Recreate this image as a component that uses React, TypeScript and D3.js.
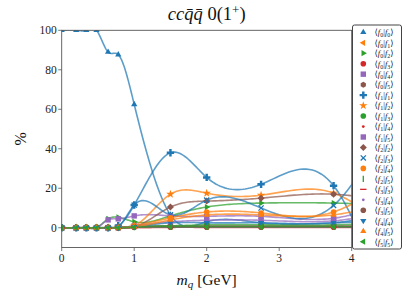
import React from "react";
import * as d3 from "d3";

const W = 415;
const H = 303;
const M = { left: 61.7, right: 351.7, top: 30.3, bottom: 247.5 };

const COLORS = ["#1f77b4", "#ff7f0e", "#2ca02c", "#d62728", "#9467bd", "#8c564b"];

// quark masses (GeV); last point sits past the visible range
const xs = [0, 0.2, 0.34, 0.48, 0.64, 0.78, 1.0, 1.5, 2.0, 2.75, 3.75, 4.25];

const labels = [
  ["0", "0"], ["0", "1"], ["0", "2"], ["0", "3"], ["0", "4"], ["0", "5"],
  ["1", "1"], ["1", "2"], ["1", "3"], ["1", "4"], ["1", "5"],
  ["2", "2"], ["2", "3"], ["2", "4"], ["2", "5"],
  ["3", "3"], ["3", "4"], ["3", "5"],
  ["4", "4"], ["4", "5"],
  ["5", "5"],
];

const markers = [
  "^", "<", ">", "o", "s", "h",
  "P", "*", "o", ".", "s",
  "D", "x", "o", "|",
  "_", ".", "o",
  "v", "^",
  "<",
];

const f0f0 = [100, 100, 100, 100, 89, 87.7, 62.5, 6.5, 3, 2.5, 2.5, 3];
const f0f1 = [0, 0, 0, 0, 0, 0.3, 0.5, 0.5, 0.5, 0.5, 0.5, 0.5];
const f0f2 = [0, 0, 0, 0, 4.5, 5.3, 3, 6, 10.5, 12.5, 12.5, 12];
const f0f3 = [0, 0, 0, 0, 0, 0, 0.3, 0.3, 0.3, 0.3, 0.3, 0.3];
const f0f4 = [0, 0, 0, 0, 4, 4.5, 6, 6, 5.8, 5.8, 4.8, 9];
const f0f5 = [0, 0, 0, 0, 0, 0, 0.5, 1, 1, 1, 1, 1];
const f1f1 = [0, 0, 0, 0, 0, 1, 11.5, 38, 25.5, 22, 21.3, -15];
const f1f2 = [0, 0, 0, 0, 0, 0, 1, 17, 17.5, 16.5, 17.6, 7];
const f1f3 = [0, 0, 0, 0, 0, 0, 0.5, 1, 1.5, 1.5, 1.5, 2];
const f1f4 = [0, 0, 0, 0, 0, 0, 0.2, 0.3, 0.3, 0.3, 0.3, 0.3];
const f1f5 = [0, 0, 0, 0, 0, 0, 1, 3, 3.8, 3.8, 3.5, 6];
const f2f2 = [0, 0, 0, 0, 0, 0, 0.5, 10.5, 13.5, 15, 17, 15];
const f2f3 = [0, 0, 0, 0, 0, 0.5, 11.5, 6.5, 14, 10, 11.3, 35];
const f2f4 = [0, 0, 0, 0, 0, 0, 1, 5, 8, 7.5, 8, 17];
const f2f5 = [0, 0, 0, 0, 0, 0, 0.3, 0.5, 0.5, 0.5, 0.5, 0.5];
const f3f3 = [0, 0, 0, 0, 0, 0, 0, 0.2, 0.2, 0.2, 0.2, 0.2];
const f3f4 = [0, 0, 0, 0, 0, 0, 0.2, 0.3, 0.3, 0.3, 0.3, 0.3];
const f3f5 = [0, 0, 0, 0, 0, 0, 0.3, 0.5, 0.5, 0.5, 0.5, 0.5];
const f4f4 = [0, 0, 0, 0, 0, 0, 0.5, 2.5, 2.5, 2.5, 2.5, 5];
const f4f5 = [0, 0, 0, 0, 0, 0, 0.5, 4, 6.5, 6.5, 6.5, 10];
const f5f5 = [0, 0, 0, 0, 0, 0, 0.3, 0.5, 0.5, 0.5, 0.5, 0.5];

const series = [
  f0f0, f0f1, f0f2, f0f3, f0f4, f0f5,
  f1f1, f1f2, f1f3, f1f4, f1f5,
  f2f2, f2f3, f2f4, f2f5,
  f3f3, f3f4, f3f5,
  f4f4, f4f5,
  f5f5,
];

const yTicks = [0, 20, 40, 60, 80, 100];
const xTicks = [0, 1, 2, 3, 4];

// natural cubic spline y(x), sampled densely
function splinePoints(x: number[], y: number[], steps = 24) {
  const n = x.length;
  const h = d3.range(n - 1).map((i) => x[i + 1] - x[i]);
  const m = new Array(n).fill(0);
  const a: number[] = [], b: number[] = [], c: number[] = [], r: number[] = [];
  for (let i = 1; i < n - 1; i++) {
    a.push(h[i - 1]);
    b.push(2 * (h[i - 1] + h[i]));
    c.push(h[i]);
    r.push(6 * ((y[i + 1] - y[i]) / h[i] - (y[i] - y[i - 1]) / h[i - 1]));
  }
  const k = b.length;
  for (let i = 1; i < k; i++) {
    const w = a[i] / b[i - 1];
    b[i] -= w * c[i - 1];
    r[i] -= w * r[i - 1];
  }
  const sol = new Array(k).fill(0);
  for (let i = k - 1; i >= 0; i--) {
    sol[i] = (r[i] - (i < k - 1 ? c[i] * sol[i + 1] : 0)) / b[i];
  }
  for (let i = 0; i < k; i++) m[i + 1] = sol[i];
  const pts: [number, number][] = [];
  for (let i = 0; i < n - 1; i++) {
    for (let s = 0; s < steps; s++) {
      const xx = x[i] + (h[i] * s) / steps;
      const A = (x[i + 1] - xx) / h[i];
      const B = (xx - x[i]) / h[i];
      const yy =
        A * y[i] + B * y[i + 1] +
        ((A ** 3 - A) * m[i] + (B ** 3 - B) * m[i + 1]) * (h[i] * h[i]) / 6;
      pts.push([xx, yy]);
    }
  }
  pts.push([x[n - 1], y[n - 1]]);
  return pts;
}

function hexPath(r: number) {
  return d3.range(6).map((i) => {
    const t = (Math.PI / 3) * i + Math.PI / 6;
    return `${i ? "L" : "M"}${(r * Math.cos(t)).toFixed(2)},${(r * Math.sin(t)).toFixed(2)}`;
  }).join("") + "Z";
}

function triPath(r: number, rot: number) {
  return d3.range(3).map((i) => {
    const t = rot + (2 * Math.PI / 3) * i;
    return `${i ? "L" : "M"}${(r * Math.cos(t)).toFixed(2)},${(r * Math.sin(t)).toFixed(2)}`;
  }).join("") + "Z";
}

const Marker = ({ kind, color, x, y }: { kind: string; color: string; x: number; y: number }) => {
  const tr = `translate(${x},${y})`;
  switch (kind) {
    case "^": return <path transform={tr} d={triPath(3.6, -Math.PI / 2)} fill={color} />;
    case "v": return <path transform={tr} d={triPath(3.6, Math.PI / 2)} fill={color} />;
    case "<": return <path transform={tr} d={triPath(3.6, Math.PI)} fill={color} />;
    case ">": return <path transform={tr} d={triPath(3.6, 0)} fill={color} />;
    case "o": return <circle cx={x} cy={y} r={2.8} fill={color} />;
    case ".": return <circle cx={x} cy={y} r={1.4} fill={color} />;
    case "s": return <rect x={x - 2.7} y={y - 2.7} width={5.4} height={5.4} fill={color} />;
    case "h": return <path transform={tr} d={hexPath(3)} fill={color} />;
    case "D": return <path transform={tr} d="M0,-3.5L3.5,0L0,3.5L-3.5,0Z" fill={color} />;
    case "P": return <path transform={tr} d={d3.symbol(d3.symbolCross, 30)() as string} fill={color} />;
    case "*": return <path transform={tr} d={d3.symbol(d3.symbolStar, 22)() as string} fill={color} />;
    case "x": return <path transform={tr} d="M-2.6,-2.6L2.6,2.6M-2.6,2.6L2.6,-2.6" stroke={color} strokeWidth={1.3} />;
    case "|": return <path transform={tr} d="M0,-3.2L0,3.2" stroke={color} strokeWidth={1.3} />;
    case "_": return <path transform={tr} d="M-3.2,0L3.2,0" stroke={color} strokeWidth={1.3} />;
    default: return null;
  }
};

const Pair = ({ a, b }: { a: string; b: string }) => (
  <>
    {"⟨"}
    <tspan fontStyle="italic">f</tspan>
    <tspan fontSize={6} dy={2}>{a}</tspan>
    <tspan dy={-2}>|</tspan>
    <tspan fontStyle="italic">f</tspan>
    <tspan fontSize={6} dy={2}>{b}</tspan>
    <tspan dy={-2}>⟩</tspan>
  </>
);

export default function App() {
  const x = d3.scaleLinear().domain([0, 4]).range([M.left, M.right]);
  const y = d3.scaleLinear().domain([-10, 100]).range([M.bottom, M.top]);
  const line = d3.line<[number, number]>().x((d) => x(d[0])).y((d) => y(d[1]));
  const font = "'Liberation Serif', 'DejaVu Serif', serif";
  const axisColor = "#555";
  const legTop = 32.3;
  const legStep = 10.47;

  return (
    <svg width={W} height={H} style={{ position: "absolute", left: 0, top: 0, background: "#fff", fontFamily: font }}>
      <defs>
        <clipPath id="plot">
          <rect x={M.left} y={M.top} width={M.right - M.left} height={M.bottom - M.top} />
        </clipPath>
      </defs>

      <g clipPath="url(#plot)">
        {series.map((s, i) => (
          <path key={"l" + i} d={line(splinePoints(xs, s)) as string} fill="none"
            stroke={COLORS[i % 6]} strokeWidth={1.6} strokeOpacity={0.72} />
        ))}
        {series.map((s, i) =>
          s.map((v, j) => (
            <Marker key={`m${i}-${j}`} kind={markers[i]} color={COLORS[i % 6]} x={x(xs[j])} y={y(v)} />
          ))
        )}
      </g>

      {/* frame */}
      <rect x={M.left} y={M.top} width={M.right - M.left} height={M.bottom - M.top}
        fill="none" stroke={axisColor} strokeWidth={0.9} />

      {yTicks.map((t) => (
        <g key={"y" + t}>
          <line x1={M.left - 3.5} x2={M.left} y1={y(t)} y2={y(t)} stroke={axisColor} strokeWidth={0.8} />
          <text x={M.left - 5} y={y(t) + 4} fontSize={11.5} textAnchor="end" fill="#222">{t}</text>
        </g>
      ))}
      {xTicks.map((t) => (
        <g key={"x" + t}>
          <line x1={x(t)} x2={x(t)} y1={M.bottom} y2={M.bottom + 3.5} stroke={axisColor} strokeWidth={0.8} />
          <text x={x(t)} y={M.bottom + 14} fontSize={11.5} textAnchor="middle" fill="#222">{t}</text>
        </g>
      ))}

      <text x={206.7} y={285} fontSize={15.5} textAnchor="middle" fill="#111">
        <tspan fontStyle="italic">m</tspan>
        <tspan fontStyle="italic" fontSize={11} dy={3}>q</tspan>
        <tspan dy={-3}> [GeV]</tspan>
      </text>
      <text transform={`translate(26,${(M.top + M.bottom) / 2}) rotate(-90)`} fontSize={16} textAnchor="middle" fill="#111">%</text>

      <text x={206.7} y={20} fontSize={18.5} textAnchor="middle" fill="#111">
        <tspan fontStyle="italic">ccq̄q̄</tspan>
        <tspan> 0(1</tspan>
        <tspan fontSize={13} dy={-6}>+</tspan>
        <tspan dy={6}>)</tspan>
      </text>

      {/* legend */}
      <rect x={352.5} y={25} width={49} height={224} rx={2} fill="#fff" stroke="#444" strokeWidth={1} />
      {labels.map((l, i) => (
        <g key={"lg" + i}>
          <Marker kind={markers[i]} color={COLORS[i % 6]} x={363.3} y={legTop + i * legStep} />
          <text x={374.5} y={legTop + i * legStep + 2.8} fontSize={8.5} fill="#222">
            <Pair a={l[0]} b={l[1]} />
          </text>
        </g>
      ))}
    </svg>
  );
}
